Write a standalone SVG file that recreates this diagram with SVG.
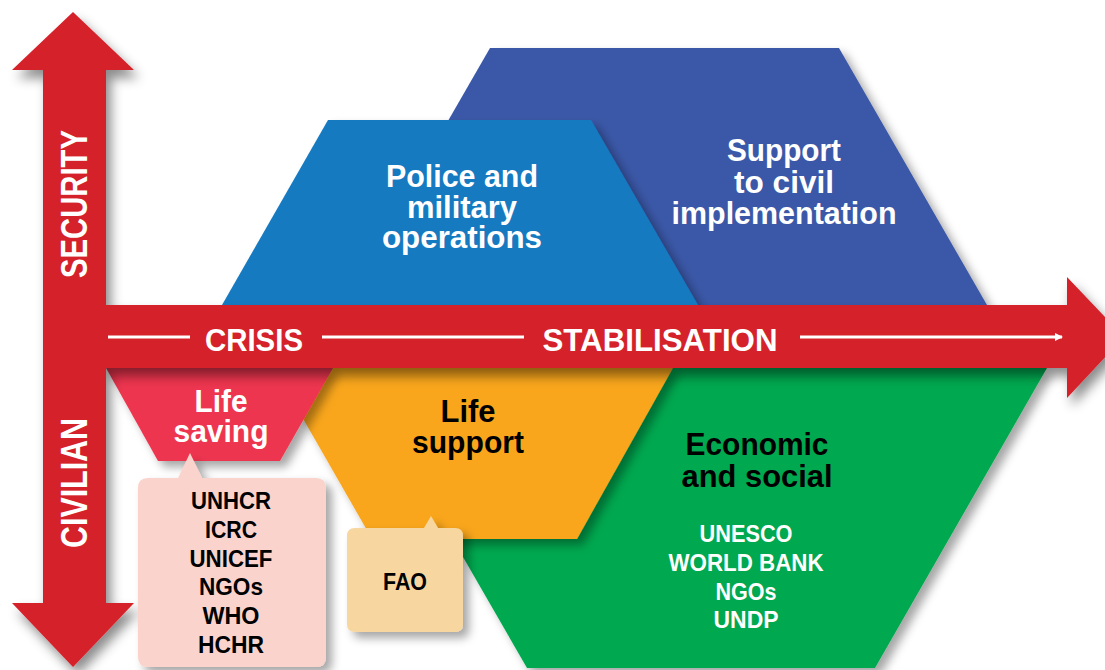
<svg xmlns="http://www.w3.org/2000/svg" width="1105" height="670" viewBox="0 0 1105 670">
<defs>
<filter id="sh" x="-10%" y="-10%" width="130%" height="130%">
<feDropShadow dx="6" dy="6" stdDeviation="5" flood-color="#000" flood-opacity="0.35"/>
</filter>
<filter id="sh2" x="-10%" y="-20%" width="130%" height="150%">
<feDropShadow dx="5" dy="8" stdDeviation="6" flood-color="#000" flood-opacity="0.45"/>
</filter>
<marker id="ah" markerWidth="8" markerHeight="8" refX="7" refY="4" orient="auto" markerUnits="userSpaceOnUse" viewBox="0 0 8 8">
<path d="M0,0 L8,4 L0,8 Z" fill="#fff"/>
</marker>
</defs>
<style>
.t{font-family:"Liberation Sans Narrow","Liberation Sans",Arial,sans-serif;font-weight:bold;text-anchor:middle}
.w{fill:#fff}
.k{fill:#000}
.big{font-size:32px}
.sm{font-size:24px}
.ax{font-size:36px}
.wl{stroke:#fff;stroke-width:3;fill:none}
</style>
<rect width="1105" height="670" fill="#fff"/>

<g id="support-civil">
<polygon points="490,48 839,48 987,305 342,305" fill="#3A58A8" filter="url(#sh)"/>
<text class="t w big" x="784" y="161" textLength="114" lengthAdjust="spacingAndGlyphs">Support</text>
<text class="t w big" x="784" y="193" textLength="100" lengthAdjust="spacingAndGlyphs">to civil</text>
<text class="t w big" x="784" y="224" textLength="225" lengthAdjust="spacingAndGlyphs">implementation</text>
</g>

<g id="police-military">
<polygon points="328,120 591,120 698,305 222,305" fill="#157AC1" filter="url(#sh)"/>
<text class="t w big" x="462" y="187" textLength="152" lengthAdjust="spacingAndGlyphs">Police and</text>
<text class="t w big" x="462" y="218" textLength="110" lengthAdjust="spacingAndGlyphs">military</text>
<text class="t w big" x="462" y="248" textLength="160" lengthAdjust="spacingAndGlyphs">operations</text>
</g>

<g id="economic-social">
<polygon points="354,368 1047,368 875,668 527,668" fill="#00A84F" filter="url(#sh)"/>
<text class="t k big" x="757" y="455" textLength="143" lengthAdjust="spacingAndGlyphs">Economic</text>
<text class="t k big" x="757" y="487" textLength="151" lengthAdjust="spacingAndGlyphs">and social</text>
<text class="t w sm" x="746" y="542" textLength="93" lengthAdjust="spacingAndGlyphs">UNESCO</text>
<text class="t w sm" x="746" y="571" textLength="155" lengthAdjust="spacingAndGlyphs">WORLD BANK</text>
<text class="t w sm" x="746" y="600" textLength="61" lengthAdjust="spacingAndGlyphs">NGOs</text>
<text class="t w sm" x="746" y="628" textLength="65" lengthAdjust="spacingAndGlyphs">UNDP</text>
</g>

<g id="life-support">
<polygon points="274,368 673,368 577,539 372,539" fill="#F9A61E" filter="url(#sh)"/>
<text class="t k big" x="468" y="422" textLength="55" lengthAdjust="spacingAndGlyphs">Life</text>
<text class="t k big" x="468" y="453" textLength="112" lengthAdjust="spacingAndGlyphs">support</text>
</g>

<g id="life-saving">
<polygon points="106,368 333,368 280,461 158,461" fill="#EE3550" filter="url(#sh)"/>
<text class="t w big" x="221" y="412" textLength="53" lengthAdjust="spacingAndGlyphs">Life</text>
<text class="t w big" x="221" y="442" textLength="95" lengthAdjust="spacingAndGlyphs">saving</text>
</g>

<g id="axes">
<path d="M73,12 L134,70 L106,70 L106,305 L1067,305 L1067,277 L1124,337 L1067,398 L1067,368 L106,368 L106,603 L134,603 L73,667 L12,603 L43,603 L43,70 L12,70 Z" fill="#D52029" filter="url(#sh2)"/>
<text class="t w ax" transform="translate(87,204) rotate(-90)" textLength="148" lengthAdjust="spacingAndGlyphs">SECURITY</text>
<text class="t w ax" transform="translate(87,483) rotate(-90)" textLength="130" lengthAdjust="spacingAndGlyphs">CIVILIAN</text>
<text class="t w big" x="254" y="351" textLength="98" lengthAdjust="spacingAndGlyphs">CRISIS</text>
<text class="t w big" x="660" y="351" textLength="235" lengthAdjust="spacingAndGlyphs">STABILISATION</text>
</g>

<g id="connectors">
<line class="wl" x1="108" y1="337" x2="190" y2="337"/>
<line class="wl" x1="322" y1="337" x2="524" y2="337"/>
<line class="wl" x1="800" y1="337" x2="1062" y2="337" marker-end="url(#ah)"/>
</g>

<g id="agencies-life-saving">
<path d="M148,478 L178,478 L190,453 L202,478 L316,478 Q326,478 326,488 L326,657 Q326,667 316,667 L148,667 Q138,667 138,657 L138,488 Q138,478 148,478 Z" fill="#FAD4CC" filter="url(#sh)"/>
<text class="t k sm" x="231" y="509" textLength="80" lengthAdjust="spacingAndGlyphs">UNHCR</text>
<text class="t k sm" x="231" y="538" textLength="52" lengthAdjust="spacingAndGlyphs">ICRC</text>
<text class="t k sm" x="231" y="567" textLength="83" lengthAdjust="spacingAndGlyphs">UNICEF</text>
<text class="t k sm" x="231" y="595" textLength="64" lengthAdjust="spacingAndGlyphs">NGOs</text>
<text class="t k sm" x="231" y="624" textLength="57" lengthAdjust="spacingAndGlyphs">WHO</text>
<text class="t k sm" x="231" y="653" textLength="66" lengthAdjust="spacingAndGlyphs">HCHR</text>
</g>

<g id="agencies-life-support">
<path d="M355,528 L424,528 L431,516 L438,528 L455,528 Q463,528 463,536 L463,624 Q463,632 455,632 L355,632 Q347,632 347,624 L347,536 Q347,528 355,528 Z" fill="#F7D6A0" filter="url(#sh)"/>
<text class="t k sm" x="405" y="590" textLength="44" lengthAdjust="spacingAndGlyphs">FAO</text>
</g>
</svg>
